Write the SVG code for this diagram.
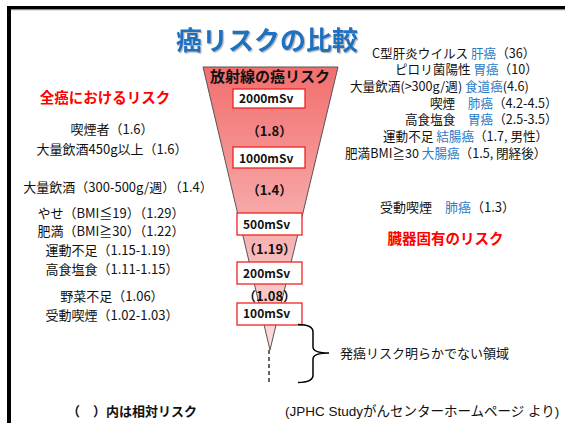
<svg xmlns="http://www.w3.org/2000/svg" width="565" height="423" viewBox="0 0 565 423">
<defs>
<style>
text{font-family:"Noto Sans CJK JP","Noto Sans",sans-serif;fill:#111}
.t13{font-size:13px}
.r{font-size:12.6px}
.c{text-anchor:middle}
.b{font-weight:bold}
.blue{fill:#2e7cc6}
.red{fill:#ff0000;font-weight:bold;font-size:14.5px}
.box{fill:#fff;stroke:#ee2222;stroke-width:1.3}
.bx{font-size:12px;font-weight:bold}
.fv{font-size:13px;font-weight:bold;text-anchor:middle}
</style>
<linearGradient id="g" x1="0" y1="67" x2="0" y2="350" gradientUnits="userSpaceOnUse">
<stop offset="0" stop-color="#f26e6e"/>
<stop offset="0.5" stop-color="#f7a6a6"/>
<stop offset="1" stop-color="#fcdede"/>
</linearGradient>
<filter id="sh" x="-5%" y="-20%" width="115%" height="150%">
<feDropShadow dx="1.2" dy="1.2" stdDeviation="0.6" flood-color="#888" flood-opacity="0.6"/>
</filter>
</defs>
<rect width="565" height="423" fill="#fff"/>
<g id="frame">
<rect x="7" y="6" width="558" height="3.5" fill="#000"/>
<rect x="7" y="6" width="4" height="417" fill="#000"/>
<rect x="11" y="9.5" width="554" height="0.8" fill="#999"/>
</g>
<g id="title"><text x="267" y="50" class="c b" font-size="26" style="fill:#1f72c0" filter="url(#sh)">癌リスクの比較</text></g>
<g id="funnel">
<polygon points="203,67 338,67 270,350" fill="url(#g)" stroke="#555" stroke-width="1"/>
<text x="270" y="82" class="c b" font-size="15">放射線の癌リスク</text>
<text x="269.5" y="136" class="fv">（1.8）</text>
<text x="269.5" y="195" class="fv">（1.4）</text>
<text x="269.5" y="254" class="fv">（1.19）</text>
<text x="269.5" y="301" class="fv">（1.08）</text>
</g>
<g id="box2000"><rect x="233" y="89" width="72" height="19" class="box"/><text x="239" y="103" class="bx">2000mSv</text></g>
<g id="box1000"><rect x="233" y="147" width="72" height="21" class="box"/><text x="239" y="163" class="bx">1000mSv</text></g>
<g id="box500"><rect x="237" y="213" width="65" height="22" class="box"/><text x="243" y="229" class="bx">500mSv</text></g>
<g id="box200"><rect x="237" y="262" width="65" height="22" class="box"/><text x="243" y="278" class="bx">200mSv</text></g>
<g id="box100"><rect x="237" y="303" width="65" height="22" class="box"/><text x="243" y="318" class="bx">100mSv</text></g>
<g id="connectors" fill="none" stroke="#000">
<line x1="269" y1="350" x2="269" y2="383" stroke-width="1.2" stroke-dasharray="4 3"/>
<path d="M298,324.5 Q313,324.5 313,332 L313,347 Q313,353 329,353 Q313,353 313,359 L313,375 Q313,382.5 298,382.5" stroke-width="1.5"/>
</g>
<g id="left-list">
<text x="105" y="103" class="c red">全癌におけるリスク</text>
<text x="112" y="133.5" class="c t13">喫煙者（1.6）</text>
<text x="112" y="153.5" class="c t13">大量飲酒450g以上（1.6）</text>
<text x="118" y="191.5" class="c t13">大量飲酒（300-500g/週）（1.4）</text>
<text x="111" y="217.5" class="c t13">やせ（BMI≦19）（1.29）</text>
<text x="111" y="235.5" class="c t13">肥満（BMI≧30）（1.22）</text>
<text x="112" y="254.5" class="c t13">運動不足（1.15-1.19）</text>
<text x="112" y="273.5" class="c t13">高食塩食（1.11-1.15）</text>
<text x="112" y="300.5" class="c t13">野菜不足（1.06）</text>
<text x="112" y="319.5" class="c t13">受動喫煙（1.02-1.03）</text>
</g>
<g id="right-list">
<text x="372" y="57.5" class="r">C型肝炎ウイルス <tspan class="blue">肝癌</tspan>（36）</text>
<text x="395" y="73.5" class="r">ピロリ菌陽性 <tspan class="blue">胃癌</tspan>（10）</text>
<text x="350" y="90.5" class="r">大量飲酒(&gt;300g/週) <tspan class="blue">食道癌</tspan>(4.6)</text>
<text x="430" y="107.5" class="r">喫煙　<tspan class="blue">肺癌</tspan>（4.2-4.5）</text>
<text x="405" y="123.5" class="r">高食塩食　<tspan class="blue">胃癌</tspan>（2.5-3.5）</text>
<text x="383" y="141" class="r">運動不足 <tspan class="blue">結腸癌</tspan>（1.7, 男性）</text>
<text x="345" y="157.5" class="r">肥満BMI≧30 <tspan class="blue">大腸癌</tspan>（1.5, 閉経後）</text>
<text x="380" y="211.5" class="t13">受動喫煙　<tspan class="blue">肺癌</tspan>（1.3）</text>
<text x="445.5" y="244" class="c red">臓器固有のリスク</text>
</g>
<g id="note"><text x="340" y="358" class="t13">発癌リスク明らかでない領域</text></g>
<g id="footer">
<text x="67" y="416" class="t13 b">（　）内は相対リスク</text>
<text x="285" y="416" font-size="13.5" style="font-family:'Liberation Sans','Noto Sans CJK JP',sans-serif">(JPHC Studyがんセンターホームページ より)</text>
</g>
</svg>
